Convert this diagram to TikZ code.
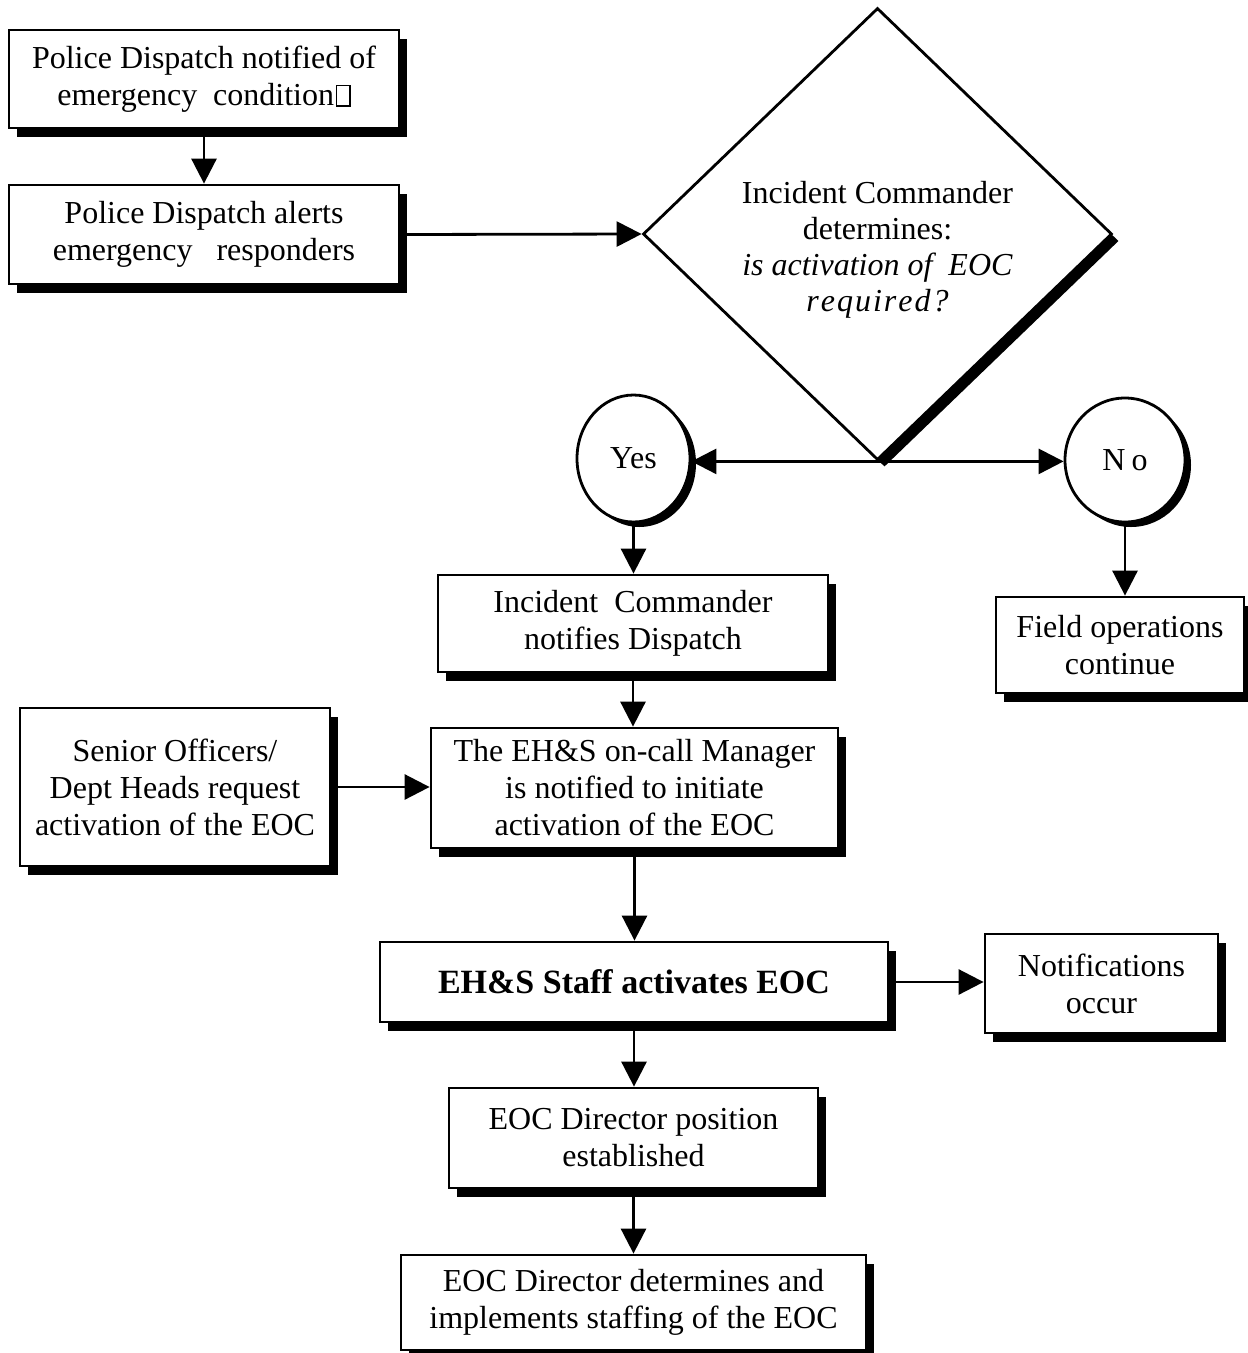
\documentclass[tikz,border=0pt]{standalone}
\usepackage{fontspec}
\setmainfont{Liberation Serif}
\usetikzlibrary{shapes.geometric,shadows,arrows.meta,calc}
\newcommand\missingbox{\kern2pt{\fboxrule=1.2pt\fboxsep=0pt\fbox{\rule{0pt}{19pt}\hspace{12pt}}}}
\tikzset{
  shad/.style={drop shadow={shadow xshift=8pt, shadow yshift=-9pt, fill=black, opacity=1}},
  box/.style={draw, line width=2.8pt, fill=white, align=center, inner sep=0pt, shad,
    font=\fontsize{32}{37}\selectfont},
  conn/.style={line width=2.8pt, -{Triangle[length=25pt, width=25pt]}},
  bub/.style={ellipse, draw, line width=2.8pt, fill=white, inner sep=0pt,
    drop shadow={shadow xshift=6pt, shadow yshift=-5pt, fill=black, opacity=1},
    font=\fontsize{32}{37}\selectfont}
}
\begin{document}
\begin{tikzpicture}[x=1pt, y=-1pt]
\useasboundingbox (0,0) rectangle (1248,1353);
% nodes
\node[box, minimum width=390pt, minimum height=98pt] (b1) at (204,79)
  {Police Dispatch notified of\\emergency\ \ condition\missingbox};
\node[box, minimum width=390pt, minimum height=99pt] (b2) at (204,234.5)
  {Police Dispatch alerts\\emergency\ \ \ responders};
\node[diamond, draw, line width=2.8pt, fill=white, inner sep=0pt, minimum width=469pt, minimum height=452pt,
  drop shadow={shadow xshift=7pt, shadow yshift=-7pt, fill=black, opacity=1}] (dia) at (877.5,234) {};
\node[align=center, font=\fontsize{32}{36}\selectfont] (diatext) at ($(dia.center)+(0,16)$)
  {Incident Commander\\determines:\\\textit{is activation of\ \ EOC}\\\textit{r\kern2pt e\kern2pt q\kern2pt u\kern2pt i\kern2pt r\kern2pt e\kern2pt d\kern2pt ?}};
\node[bub, minimum width=113pt, minimum height=127pt] (yes) at (633.5,458.5) {Yes};
\node[bub, minimum width=120pt, minimum height=124pt] (no) at (1125,460) {N\kern6pt o};
\node[box, minimum width=390pt, minimum height=97pt] (ic) at (633,623.5)
  {Incident\ \ Commander\\notifies Dispatch};
\node[box, minimum width=248pt, minimum height=96pt] (field) at (1120,645)
  {Field operations\\continue};
\node[box, minimum width=310pt, minimum height=158pt] (senior) at (175,787)
  {Senior Officers/\\Dept Heads request\\activation of the EOC};
\node[box, minimum width=407pt, minimum height=120pt] (mgr) at (634.5,788)
  {The EH\&S on-call Manager\\is notified to initiate\\activation of the EOC};
\node[box, minimum width=508pt, minimum height=80pt, font=\fontsize{34}{38}\selectfont\bfseries] (staff) at (634,982)
  {EH\&S Staff activates EOC};
\node[box, minimum width=233pt, minimum height=99pt] (notif) at (1101.5,983.5)
  {Notifications\\occur};
\node[box, minimum width=369pt, minimum height=100pt] (dir) at (633.5,1138)
  {EOC Director position\\established};
\node[box, minimum width=465pt, minimum height=95pt] (final) at (633.5,1302.5)
  {EOC Director determines and\\implements staffing of the EOC};
% connectors
\draw[conn] (b1.south) -- (b2.north);
\draw[conn] (b2.east) -- (dia.west);
\draw[conn] (dia.south) -- (dia.south -| yes.east);
\draw[conn] (dia.south) -- (dia.south -| no.west);
\draw[conn] (yes.south) -- (yes.south |- ic.north);
\draw[conn] (no.south) -- (no.south |- field.north);
\draw[conn] (ic.south) -- (ic.south |- mgr.north);
\draw[conn] (senior.east) -- (senior.east -| mgr.west);
\draw[conn] (mgr.south) -- (mgr.south |- staff.north);
\draw[conn] (staff.east) -- (staff.east -| notif.west);
\draw[conn] (staff.south) -- (staff.south |- dir.north);
\draw[conn] (dir.south) -- (dir.south |- final.north);
\end{tikzpicture}
\end{document}
